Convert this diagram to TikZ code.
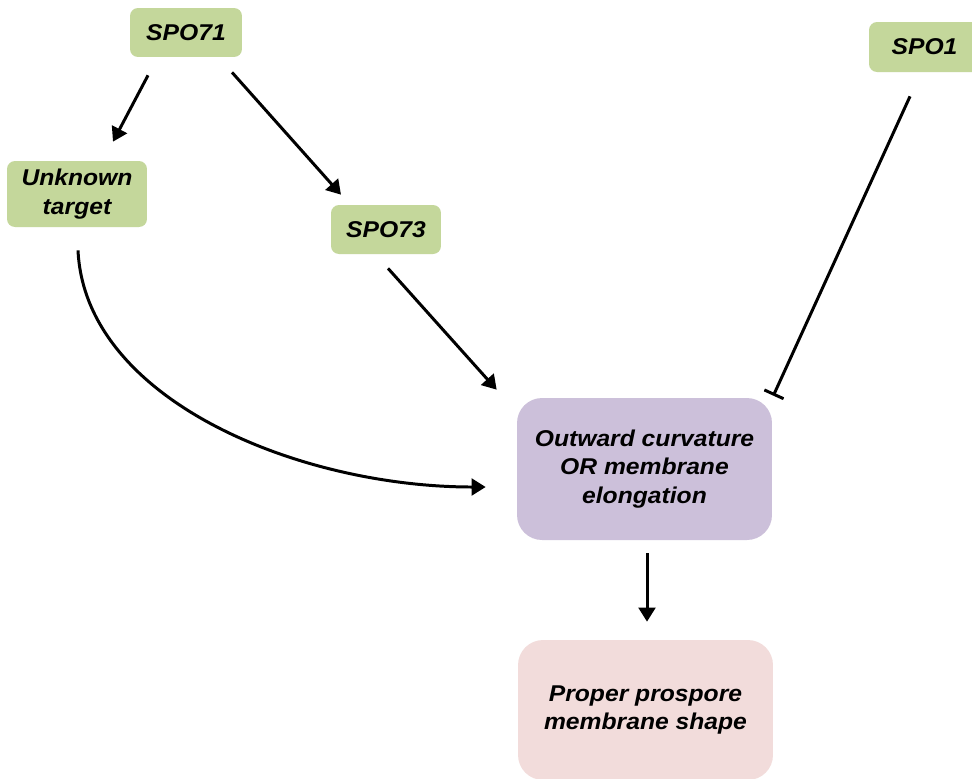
\documentclass[tikz,border=0pt]{standalone}
\usepackage{fontspec}
\setmainfont{Liberation Sans}[FakeStretch=1.08]
\usetikzlibrary{arrows.meta,calc}
\definecolor{boxgreen}{HTML}{C4D79B}
\definecolor{boxpurple}{HTML}{CCC0DA}
\definecolor{boxpink}{HTML}{F2DCDB}
\begin{document}
\begin{tikzpicture}[x=0.02cm,y=-0.02cm,
  lab/.style={font=\fontsize{13}{16.4}\selectfont\bfseries\itshape, align=center, inner sep=0pt, text=black},
  gene/.style={lab, fill=boxgreen, rounded corners=0.16cm},
  bigbox/.style={lab, rounded corners=0.5cm, minimum width=5.1cm},
  conn/.style={line width=1.7pt, -{Triangle[length=8pt,width=9.5pt]}},
  inhib/.style={line width=1.7pt, -{Bar[width=12pt,line width=1.7pt]}}]
\useasboundingbox (0,0) rectangle (972,778);
\fill[white] (0,0) rectangle (972,778);

\node[gene, minimum width=2.24cm, minimum height=0.98cm] (spo71) at (186,32.5) {SPO71};
\node[gene, minimum width=2.8cm, minimum height=1.32cm] (unk) at (77,194) {Unknown\\target};
\node[gene, minimum width=2.2cm, minimum height=0.98cm] (spo73) at (386,229.5) {SPO73};
\node[gene, minimum width=2.22cm, minimum height=1.0cm] (spo1) at (924.5,47) {SPO1};
\node[bigbox, fill=boxpurple, minimum height=2.84cm] (out) at (644.5,469) {Outward curvature\\OR membrane\\elongation};
\node[bigbox, fill=boxpink, minimum height=2.8cm] (prop) at (645.5,710) {Proper prospore\\membrane shape};

\draw[conn] ($(spo71.south)+(-38,18)$) -- ($(unk.north)+(36,-19)$);
\draw[conn] ($(spo71.south)+(46,15)$) -- ($(spo73.north)+(-45,-10)$);
\draw[conn] ($(spo73.south)+(2,14)$) -- ($(out.north west)+(-20,-8)$);
\draw[conn] ($(unk.south)+(1,23)$) .. controls +(7,150) and +(-186,0) .. ($(out.west)+(-31,18)$);
\draw[inhib] ($(spo1.south)+(-14.5,24)$) -- ($(out.north east)+(1,-2)$);
\draw[conn] ($(out.south)+(2.5,13)$) -- ($(prop.north)+(1.5,-18)$);
\end{tikzpicture}
\end{document}
